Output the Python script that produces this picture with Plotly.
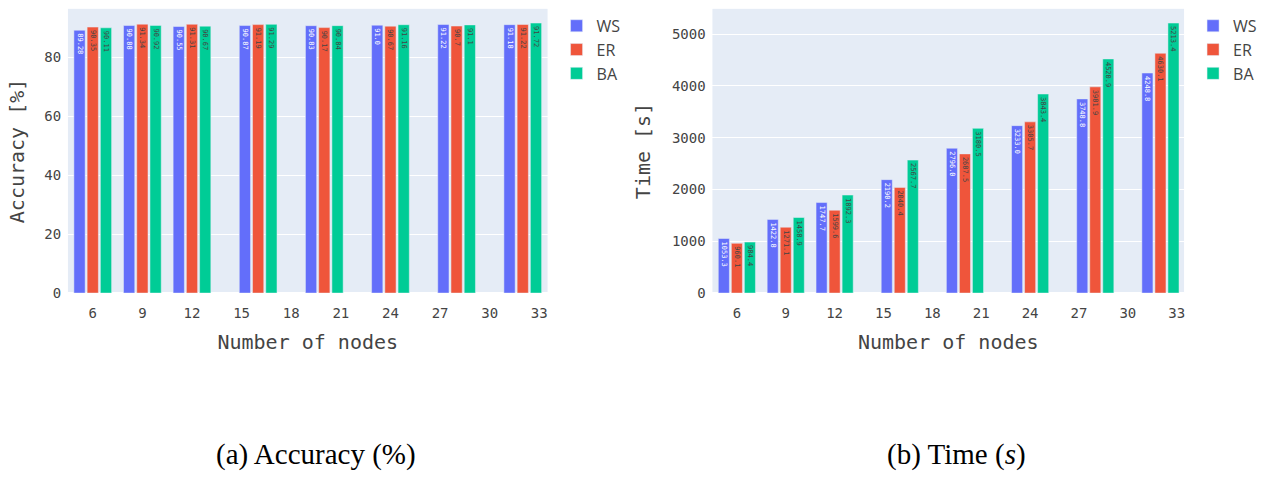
import plotly.graph_objects as go

nodes = [6, 9, 12, 16, 20, 24, 28, 32]
series = ["WS", "ER", "BA"]
colors = ["#636EFA", "#EF553B", "#00CC96"]

acc_ws = [89.28, 90.88, 90.55, 90.87, 90.83, 91.00, 91.22, 91.18]
acc_er = [90.35, 91.34, 91.31, 91.19, 90.17, 90.67, 90.7, 91.22]
acc_ba = [90.11, 90.92, 90.67, 91.29, 90.84, 91.16, 91.1, 91.72]

time_ws = [1053.3, 1422.8, 1747.7, 2190.2, 2796.0, 3233.0, 3748.8, 4248.8]
time_er = [960.1, 1271.1, 1599.6, 2040.4, 2687.5, 3305.7, 3981.9, 4630.1]
time_ba = [984.4, 1458.9, 1892.3, 2567.7, 3180.5, 3843.4, 4520.9, 5213.4]

x_ticks = [6, 9, 12, 15, 18, 21, 24, 27, 30, 33]
captions = ["(a) Accuracy (%)", "(b) Time (<i>s</i>)"]

W, H = 1267, 483
mono = "DejaVu Sans Mono, monospace"

fig = go.Figure()
for name, col, vals in zip(series, colors, [acc_ws, acc_er, acc_ba]):
    fig.add_trace(go.Bar(x=nodes, y=vals, name=name, marker_color=col,
                         text=vals, textposition="inside", textangle=90,
                         constraintext="none", textfont=dict(size=7),
                         xaxis="x", yaxis="y", legend="legend"))
for name, col, vals in zip(series, colors, [time_ws, time_er, time_ba]):
    fig.add_trace(go.Bar(x=nodes, y=vals, name=name, marker_color=col,
                         text=vals, textposition="inside", textangle=90,
                         constraintext="none", textfont=dict(size=7),
                         xaxis="x2", yaxis="y2", legend="legend2"))

ydom = [1 - 298 / H, 1 - 9 / H]
axis_common = dict(tickfont=dict(family=mono, size=14, color="#444"),
                   title_font=dict(family=mono, size=20, color="#444"))
xcommon = dict(ticks="outside", ticklen=7, tickcolor="rgba(0,0,0,0)",
               tickvals=x_ticks, showgrid=False, title_text="Number of nodes",
               **axis_common)
ycommon = dict(ticks="outside", ticklen=3, tickcolor="rgba(0,0,0,0)",
               **axis_common)

fig.update_layout(
    width=W, height=H,
    margin=dict(l=0, r=0, t=0, b=0),
    template="plotly",
    paper_bgcolor="white",
    font=dict(family=mono),
    barmode="group", bargap=0.2, bargroupgap=0.15,
    xaxis=dict(domain=[68 / W, 548 / W], anchor="y", range=[4.5, 33.5], **xcommon),
    yaxis=dict(domain=ydom, anchor="x", title_text="Accuracy [%]",
               title_standoff=14, **ycommon),
    xaxis2=dict(domain=[713 / W, 1185 / W], anchor="y2", range=[4.5, 33.45], **xcommon),
    yaxis2=dict(domain=ydom, anchor="x2", title_text="Time [s]", **ycommon),
    legend=dict(x=557 / W, y=ydom[1], xanchor="left", yanchor="top",
                font=dict(family="Open Sans, sans-serif", size=16, color="#444")),
    legend2=dict(x=1194 / W, y=ydom[1], xanchor="left", yanchor="top",
                 font=dict(family="Open Sans, sans-serif", size=16, color="#444")),
)

for cap, cx in zip(captions, [316, 957]):
    fig.add_annotation(text=cap, x=cx / W, y=1 - 462 / H, xref="paper", yref="paper",
                       showarrow=False, xanchor="center", yanchor="middle",
                       font=dict(family="Liberation Serif, Times New Roman, serif",
                                 size=29, color="black"))

fig.write_html("out.html")
